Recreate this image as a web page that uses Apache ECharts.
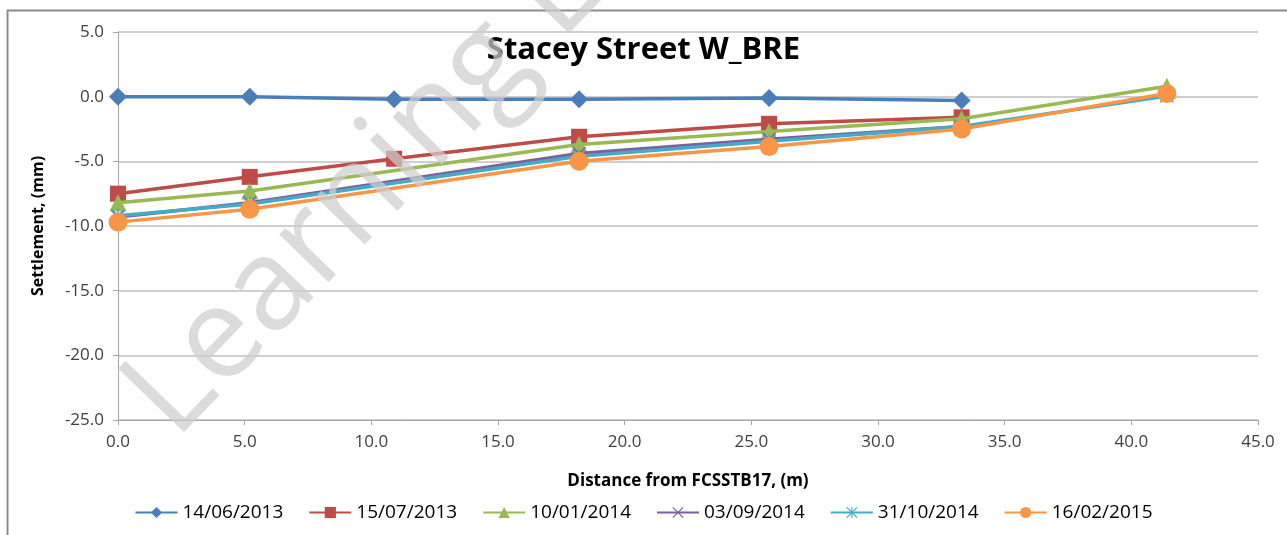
<!DOCTYPE html>
<html>
<head>
<meta charset="utf-8">
<script src="https://cdn.jsdelivr.net/npm/echarts@6/dist/echarts.min.js"></script>
<style>
  html, body { margin: 0; padding: 0; background: #fff; }
  #chart { width: 1287px; height: 535px; }
</style>
</head>
<body>
<div id="chart"></div>
<script>
// distance from FCSSTB17 (m) -> settlement (mm)
const s14062013 = [[0, 0.0], [5.2, 0.0], [10.9, -0.2], [18.2, -0.2], [25.7, -0.1], [33.3, -0.3]];
const s15072013 = [[0, -7.5], [5.2, -6.2], [10.9, -4.8], [18.2, -3.1], [25.7, -2.1], [33.3, -1.6]];
const s10012014 = [[0, -8.2], [5.2, -7.3], [18.2, -3.7], [25.7, -2.7], [33.3, -1.7], [41.4, 0.8]];
const s03092014 = [[0, -9.3], [5.2, -8.2], [18.2, -4.4], [25.7, -3.3], [33.3, -2.3]];
const s31102014 = [[0, -9.2], [5.2, -8.3], [18.2, -4.6], [25.7, -3.45], [33.3, -2.3], [41.4, 0.05]];
const s16022015 = [[0, -9.7], [5.2, -8.7], [18.2, -5.0], [25.7, -3.85], [33.3, -2.5], [41.4, 0.25]];

const seriesNames = ['14/06/2013', '15/07/2013', '10/01/2014', '03/09/2014', '31/10/2014', '16/02/2015'];
const seriesData = [s14062013, s15072013, s10012014, s03092014, s31102014, s16022015];

const COLORS = ['#4a7ebb', '#be4b48', '#98b954', '#7d60a0', '#46aac5', '#f79646'];
const CROSS = 'path://M0,1.5 L1.5,0 L10,8.5 L18.5,0 L20,1.5 L11.5,10 L20,18.5 L18.5,20 L10,11.5 L1.5,20 L0,18.5 L8.5,10 Z';
const STAR = 'path://M0,1.5 L1.5,0 L10,8.5 L18.5,0 L20,1.5 L11.5,10 L20,18.5 L18.5,20 L10,11.5 L1.5,20 L0,18.5 L8.5,10 Z M9,0 L11,0 L11,20 L9,20 Z';
const SYMBOLS = ['diamond', 'rect', 'triangle', CROSS, STAR, 'circle'];
const SIZES = [18, 16, 17, 14, 14, 19];

const FONT = '"Open Sans", Lato, sans-serif';
const AXIS_GREY = '#a6a6a6';

const chart = echarts.init(document.getElementById('chart'), null, { renderer: 'canvas' });

const series = seriesNames.map((name, i) => ({
  name,
  type: 'line',
  data: seriesData[i],
  color: COLORS[i],
  symbol: SYMBOLS[i],
  symbolSize: SIZES[i],
  showAllSymbol: true,
  lineStyle: { width: 3.5, color: COLORS[i] },
  itemStyle: { color: COLORS[i] },
  z: 2 + i,
  animation: false,
}));

chart.setOption({
  backgroundColor: '#fff',
  animation: false,
  title: {
    text: 'Stacey Street W_BRE',
    left: 'center',
    top: 30,
    textStyle: { fontFamily: FONT, fontSize: 31, fontWeight: 'bold', color: '#000' },
  },
  grid: { left: 118, right: 29, top: 32, bottom: 115 },
  legend: {
    bottom: 8,
    left: 'center',
    itemWidth: 42,
    itemHeight: 14,
    itemGap: 25,
    textStyle: { fontFamily: FONT, fontSize: 19, color: '#000' },
    data: seriesNames,
  },
  xAxis: {
    type: 'value',
    min: 0,
    max: 45,
    interval: 5,
    name: 'Distance from FCSSTB17, (m)',
    nameLocation: 'middle',
    nameGap: 53,
    nameTextStyle: { fontFamily: FONT, fontSize: 17, fontWeight: 'bold', color: '#000' },
    axisLine: { onZero: false, lineStyle: { color: AXIS_GREY, width: 1 } },
    axisTick: { show: true, length: 5, lineStyle: { color: AXIS_GREY } },
    axisLabel: {
      margin: 14,
      fontFamily: FONT,
      fontSize: 17,
      color: '#404040',
      formatter: (v) => v.toFixed(1),
    },
    splitLine: { show: false },
  },
  yAxis: {
    type: 'value',
    min: -25,
    max: 5,
    interval: 5,
    name: 'Settlement, (mm)',
    nameLocation: 'middle',
    nameGap: 72,
    nameRotate: 90,
    nameTextStyle: { fontFamily: FONT, fontSize: 16, fontWeight: 'bold', color: '#000' },
    axisLine: { show: true, lineStyle: { color: AXIS_GREY, width: 1 } },
    axisTick: { show: true, length: 5, lineStyle: { color: AXIS_GREY } },
    axisLabel: {
      margin: 14,
      fontFamily: FONT,
      fontSize: 17,
      color: '#404040',
      formatter: (v) => v.toFixed(1),
    },
    splitLine: { show: true, lineStyle: { color: '#bfbfbf', width: 1.5 } },
  },
  series,
  graphic: [
    {
      type: 'rect',
      left: 5,
      top: 8,
      shape: { width: 1300, height: 540 },
      style: { fill: 'none', stroke: '#8c8c8c', lineWidth: 2 },
      silent: true,
      z: 100,
    },
    {
      type: 'text',
      x: 195,
      y: 460,
      rotation: (46 * Math.PI) / 180,
      silent: true,
      z: 100,
      style: {
        text: 'Learning Lessons',
        font: '128px "Open Sans", sans-serif',
        fill: 'rgba(205,205,205,0.72)',
        textVerticalAlign: 'bottom',
      },
    },
  ],
});
</script>
</body>
</html>
